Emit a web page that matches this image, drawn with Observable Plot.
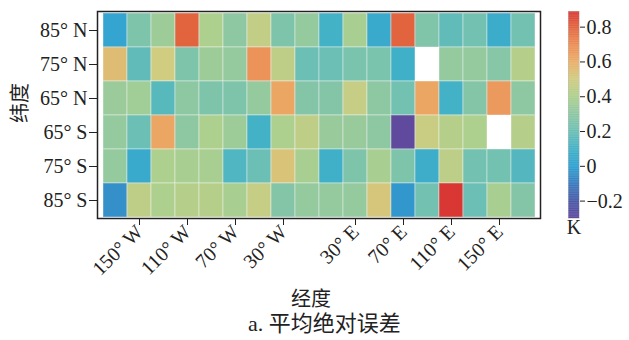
<!DOCTYPE html>
<html>
<head>
<meta charset="utf-8">
<script src="https://cdn.jsdelivr.net/npm/d3@7"></script>
<script src="https://cdn.jsdelivr.net/npm/@observablehq/plot@0.6"></script>
<style>
  html, body { margin: 0; padding: 0; background: white; }
  #wrap { position: relative; width: 629px; height: 340px; overflow: hidden; font-family: "Liberation Serif", "Noto Sans CJK SC", serif; color: #222; }
  #main { position: absolute; left: 0; top: 0; }
  #bar { position: absolute; left: 555px; top: 0; }
  #cap { position: absolute; left: 0; width: 649px; top: 313px; line-height: 1; text-align: center; font-size: 22px; font-family: "Liberation Serif", "Noto Sans CJK SC", serif; }
</style>
</head>
<body>
<div id="wrap">
  <div id="main"></div>
  <div id="bar"></div>
  <div id="cap">a. 平均绝对误差</div>
</div>
<script>
// Data
const lons = [-170, -150, -130, -110, -90, -70, -50, -30, -10, 10, 30, 50, 70, 90, 110, 130, 150, 170];
const lats = ["85° N", "75° N", "65° N", "65° S", "75° S", "85° S"];
const row85N = [0.02, 0.25, 0.35, 0.80, 0.40, 0.30, 0.46, 0.25, 0.32, 0.10, 0.38, 0.05, 0.80, 0.26, 0.17, 0.22, 0.06, 0.22];
const row75N = [0.55, 0.17, 0.50, 0.25, 0.35, 0.32, 0.68, 0.45, 0.20, 0.20, 0.24, 0.24, 0.08, null, 0.32, 0.32, 0.28, 0.42];
const row65N = [0.34, 0.36, 0.15, 0.30, 0.25, 0.25, 0.32, 0.62, 0.27, 0.27, 0.47, 0.30, 0.22, 0.62, 0.10, 0.27, 0.66, 0.30];
const row65S = [0.32, 0.20, 0.62, 0.30, 0.40, 0.35, 0.10, 0.40, 0.45, 0.33, 0.33, 0.30, -0.30, 0.48, 0.42, 0.40, null, 0.42];
const row75S = [0.32, 0.05, 0.40, 0.38, 0.38, 0.13, 0.20, 0.53, 0.38, 0.08, 0.25, 0.38, 0.25, 0.07, 0.44, 0.22, 0.22, 0.14];
const row85S = [-0.05, 0.45, 0.40, 0.42, 0.42, 0.38, 0.47, 0.27, 0.32, 0.32, 0.32, 0.52, -0.03, 0.22, 0.89, 0.20, 0.38, 0.27];
const rows = [row85N, row75N, row65N, row65S, row75S, row85S];
const xTicks = [-150, -110, -70, -30, 30, 70, 110, 150];
const barTicks = [-0.2, 0, 0.2, 0.4, 0.6, 0.8];
const barDomain = [-0.3, 0.89];

// Colour map
const colorStops = [-0.3, -0.2, -0.1, 0, 0.1, 0.2, 0.3, 0.4, 0.5, 0.6, 0.7, 0.8, 0.9];
const colorRange = ["#5f4a9e", "#4a5aa8", "#3a7cc0", "#2fa2d2", "#44b2c6", "#6cbfb4", "#8ec8a2", "#aed08e", "#d0cc80", "#ebad68", "#ec8c55", "#e2643f", "#d83232"];
const colorOpts = {type: "linear", domain: colorStops, range: colorRange, interpolate: "rgb"};

const font = '"Liberation Serif", "Noto Sans CJK SC", serif';
const cjk = '"Noto Sans CJK SC", sans-serif';

const cells = [];
lats.forEach((lat, i) => rows[i].forEach((v, j) => { if (v != null) cells.push({lat, lon: lons[j], v}); }));

const fmtLon = d => d < 0 ? `${-d}° W` : `${d}° E`;

const main = Plot.plot({
  width: 629, height: 312,
  marginLeft: 97, marginRight: 89, marginTop: 11, marginBottom: 94,
  style: {fontFamily: font, fontSize: "20px", color: "#222", background: "white"},
  x: {type: "band", domain: lons, padding: 0},
  y: {type: "band", domain: lats, padding: 0},
  color: colorOpts,
  marks: [
    Plot.cell(cells, {x: "lon", y: "lat", fill: "v", stroke: "white", strokeOpacity: 0.4, strokeWidth: 1}),
    Plot.frame({stroke: "#222", strokeWidth: 1.5}),
    Plot.axisX({ticks: xTicks, tickFormat: fmtLon, tickRotate: -45, tickSize: 7, tickPadding: 3, label: null, fontSize: 20, dx: 0}),
    Plot.axisY({tickSize: 8, tickPadding: 2, label: null, fontSize: 20}),
    Plot.text(["经度"], {frameAnchor: "bottom", dx: -8, dy: 87, text: d => d, fontFamily: cjk, fontSize: 20, fill: "#222"}),
    Plot.text(["纬度"], {frameAnchor: "left", dx: -77, dy: 8, rotate: -90, text: d => d, fontFamily: cjk, fontSize: 20, fill: "#222"})
  ]
});
document.getElementById("main").appendChild(main);

// Colour bar
const step = 0.004;
const ramp = d3.range(barDomain[0], barDomain[1], step).map(v => ({v1: v, v2: Math.min(v + step * 1.5, barDomain[1]), v: v + step / 2}));
const bar = Plot.plot({
  width: 74, height: 245,
  marginLeft: 13, marginRight: 50, marginTop: 11, marginBottom: 27,
  style: {fontFamily: font, fontSize: "20px", color: "#222", background: "transparent"},
  x: {axis: null, domain: [0, 1]},
  y: {domain: barDomain, axis: null},
  color: colorOpts,
  marks: [
    Plot.rect(ramp, {x1: 0, x2: 1, y1: "v1", y2: "v2", fill: "v"}),
    Plot.frame({stroke: "#bbb", strokeWidth: 0.5}),
    Plot.axisY({anchor: "right", ticks: barTicks, tickSize: 5, tickPadding: 2, label: null, fontSize: 20,
      tickFormat: d => d === 0 ? "0" : d.toFixed(1).replace("-", "\u2212")}),
    Plot.text(["K"], {frameAnchor: "bottom", dy: 15, text: d => d, fontSize: 20, fill: "#222"})
  ]
});
document.getElementById("bar").appendChild(bar);
</script>
</body>
</html>
